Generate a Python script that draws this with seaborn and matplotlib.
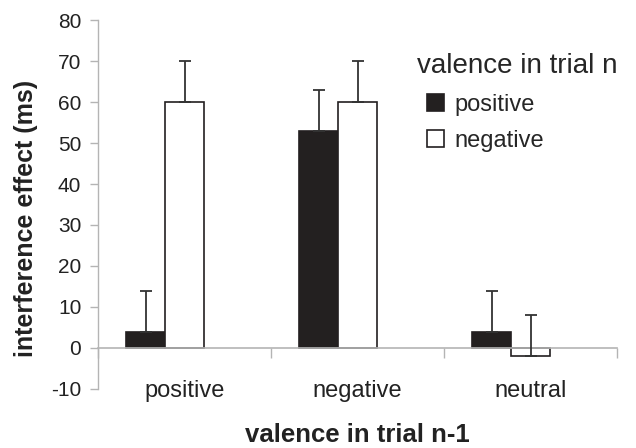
import numpy as np
import pandas as pd
import matplotlib
matplotlib.use("Agg")
import matplotlib.pyplot as plt
import seaborn as sns

# data
prev_valence = ["positive", "negative", "neutral"]
cur_valence = ["positive", "negative"]
effect_pos = [4, 53, 4]      # trial n positive
effect_neg = [60, 60, -2]    # trial n negative
err_pos = [10, 10, 10]
err_neg = [10, 10, 10]

df = pd.DataFrame({
    "prev": prev_valence * 2,
    "cur": [cur_valence[0]] * 3 + [cur_valence[1]] * 3,
    "effect": effect_pos + effect_neg,
    "err": err_pos + err_neg,
})

sns.set_style("white")
plt.rcParams["font.family"] = ["Liberation Sans", "DejaVu Sans"]
plt.rcParams["axes.unicode_minus"] = False

dark = "#231f20"
grey = "#b4b4b4"

fig = plt.figure(figsize=(6.36, 4.48), dpi=100)
ax = fig.add_axes([0.154, 0.132, 0.816, 0.823])

sns.barplot(data=df, x="prev", y="effect", hue="cur", order=prev_valence,
            hue_order=cur_valence, palette=[dark, "white"], edgecolor=dark,
            linewidth=1.2, width=0.45, gap=0, errorbar=None, ax=ax)

# bars sit a bit left of the category centre in the original
shift = -0.11
for cont, errs in zip(ax.containers, [err_pos, err_neg]):
    for bar, e in zip(cont, errs):
        bar.set_x(bar.get_x() + shift)
        xc = bar.get_x() + bar.get_width() / 2
        val = bar.get_y() + bar.get_height()
        ax.errorbar(xc, val, yerr=[[0], [e]], fmt="none", ecolor="#333333",
                    elinewidth=1.3, capsize=4, capthick=1.3, zorder=5)

ax.set_xlim(-0.5, 2.5)
ax.set_ylim(-10, 80)
ax.set_yticks(range(-10, 81, 10))

for s in ["top", "right"]:
    ax.spines[s].set_visible(False)
ax.spines["left"].set_color(grey)
ax.spines["left"].set_linewidth(1)
ax.spines["bottom"].set_position(("data", 0))
ax.spines["bottom"].set_color(grey)
ax.spines["bottom"].set_linewidth(1.2)

ax.tick_params(axis="y", which="major", direction="out", length=6, color=grey,
               width=1, labelsize=15, pad=6, left=True, labelcolor="#222222")
ax.tick_params(axis="x", which="major", length=0, labelsize=17, pad=23,
               labelcolor="#222222")
ax.set_xticks([-0.5, 0.5, 1.5, 2.5], minor=True)
ax.tick_params(axis="x", which="minor", direction="out", length=7, color=grey,
               width=1, bottom=True)

ax.set_xlabel("valence in trial n-1", fontsize=18.5, fontweight="bold",
              color="#222222")
ax.xaxis.set_label_coords(0.5, -0.093)
ax.set_ylabel("interference effect (ms)", fontsize=18, fontweight="bold",
              color="#222222")
ax.yaxis.set_label_coords(-0.115, 0.463)

handles, labels = ax.get_legend_handles_labels()
leg = ax.legend(handles, labels, title="valence in trial n", frameon=False,
                loc="upper left", bbox_to_anchor=(0.634, 0.91), borderpad=0,
                fontsize=17, title_fontsize=20, alignment="left",
                handlelength=0.7, handleheight=0.7, handletextpad=0.45,
                labelspacing=0.6, borderaxespad=0)
for h in leg.legend_handles:
    h.set_edgecolor(dark)
    h.set_linewidth(1.2)
# title starts a little left of the legend keys
leg.get_title().set_position((-10, 0))

fig.savefig("out.png", dpi=100)
